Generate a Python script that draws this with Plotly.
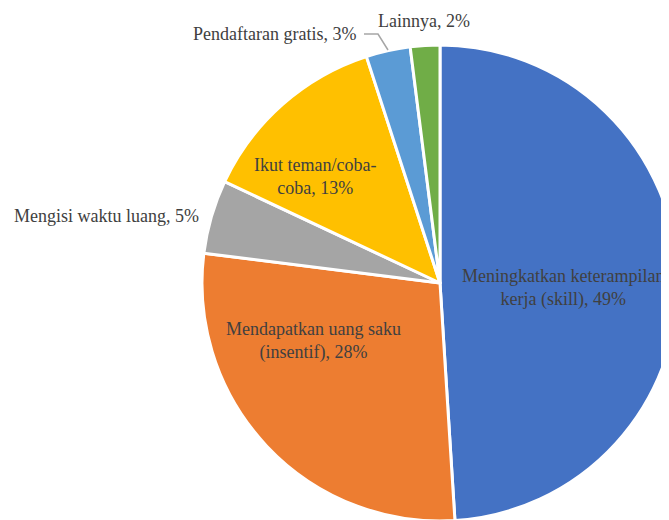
import plotly.graph_objects as go

labels = ["Meningkatkan keterampilan kerja (skill)", "Mendapatkan uang saku (insentif)",
          "Mengisi waktu luang", "Ikut teman/coba-coba", "Pendaftaran gratis", "Lainnya"]
values = [49, 28, 5, 13, 3, 2]
colors = ["#4472C4", "#ED7D31", "#A5A5A5", "#FFC000", "#5B9BD5", "#70AD47"]
label_texts = ["Meningkatkan keterampilan<br>kerja (skill), 49%",
               "Mendapatkan uang saku<br>(insentif), 28%",
               "Mengisi waktu luang, 5%",
               "Ikut teman/coba-<br>coba, 13%",
               "Pendaftaran gratis, 3%",
               "Lainnya, 2%"]

W, H = 680, 522
OFF = 8  # page body margin
def px(x):
    return (x - OFF) / W
def py(y):
    return 1 - (y - OFF) / H

# label anchor positions in pixels (x, center y, xanchor)
label_pos = [(563, 288, "center"), (313, 341, "center"), (12, 216, "left"),
             (315, 176, "center"), (358, 34, "right"), (376, 21, "left")]

fig = go.Figure(go.Pie(
    labels=labels, values=values, sort=False, direction="clockwise", rotation=0,
    marker=dict(colors=colors, line=dict(color="white", width=3)),
    textinfo="none", hoverinfo="label+percent", showlegend=False,
    domain=dict(x=[px(202), px(678)], y=[py(521), py(45)]),
))

annotations = []
for t, (x, y, xa) in zip(label_texts, label_pos):
    annotations.append(dict(text=t, x=px(x), y=py(y), xref="paper", yref="paper",
                            xanchor=xa, yanchor="middle", showarrow=False, align="center",
                            font=dict(family="Liberation Serif, Times New Roman, serif",
                                      size=18, color="#404040")))

fig.update_layout(
    width=W, height=H, margin=dict(l=0, r=0, t=0, b=0),
    paper_bgcolor="white", plot_bgcolor="white",
    annotations=annotations,
    shapes=[dict(type="path", xref="paper", yref="paper",
                 path=f"M {px(364)} {py(34)} L {px(378)} {py(34)} L {px(388)} {py(50)}",
                 line=dict(color="#A6A6A6", width=1.5))],
)
fig.write_html("out.html")
